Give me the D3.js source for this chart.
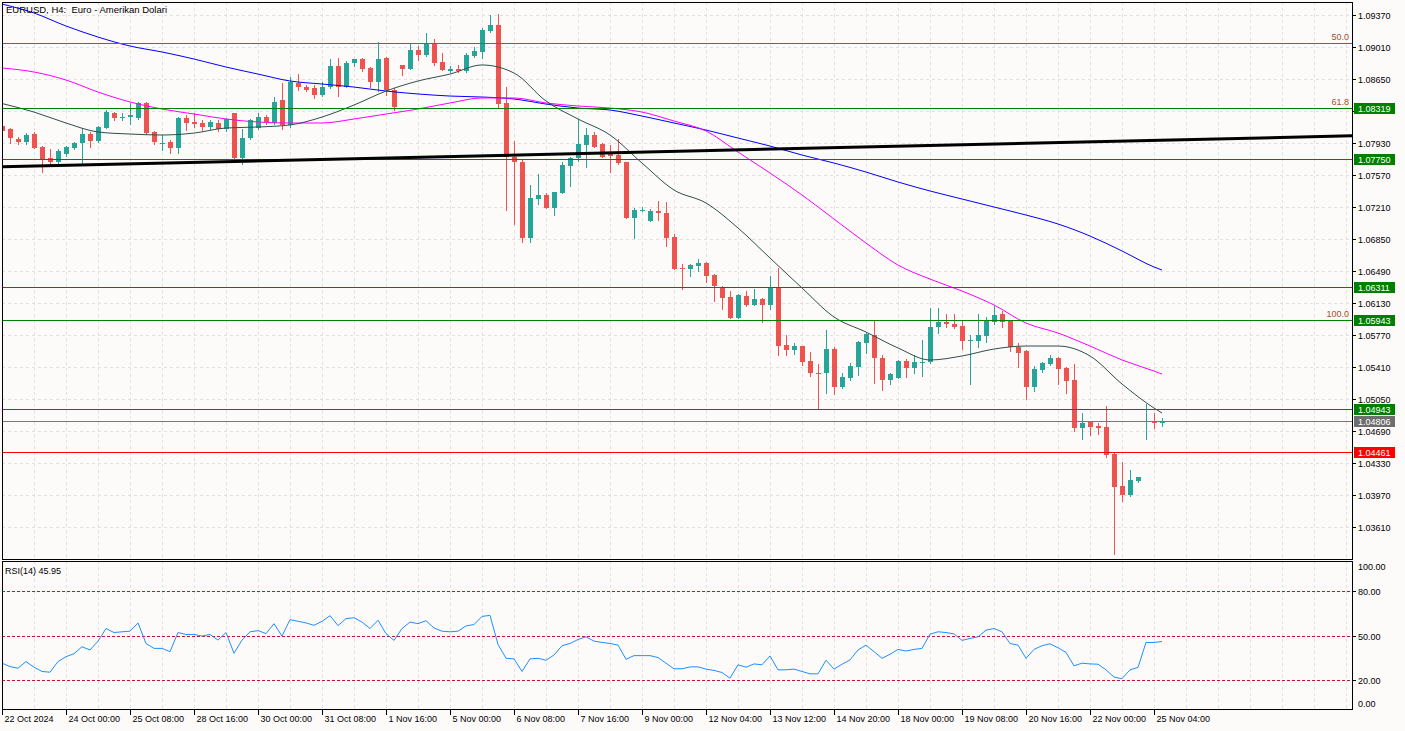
<!DOCTYPE html>
<html><head><meta charset="utf-8">
<script src="https://cdn.jsdelivr.net/npm/d3@7/dist/d3.min.js"></script>
<style>
html,body{margin:0;padding:0;background:#fdfafa;}
svg{display:block;}
text{font-family:"Liberation Sans",Arial,sans-serif;fill:#000;}
</style></head><body>
<svg id="c" width="1405" height="731"></svg>
<script>
// ---------- DATA ----------
const title = "EURUSD, H4:  Euro - Amerikan Dolari";
const xTickLabels = ["22 Oct 2024","24 Oct 00:00","25 Oct 08:00","28 Oct 16:00","30 Oct 00:00","31 Oct 08:00","1 Nov 16:00","5 Nov 00:00","6 Nov 08:00","7 Nov 16:00","9 Nov 00:00","12 Nov 04:00","13 Nov 12:00","14 Nov 20:00","18 Nov 00:00","19 Nov 08:00","20 Nov 16:00","22 Nov 00:00","25 Nov 04:00"];
const xTickBars = [0,8,16,24,32,40,48,56,64,72,80,88,96,104,112,120,128,136,144];
const priceTicks = [1.09370,1.09010,1.08650,1.08290,1.07930,1.07570,1.07210,1.06850,1.06490,1.06130,1.05770,1.05410,1.05050,1.04690,1.04330,1.03970,1.03610];
const rsiTicks = [100,80,50,20,0];
const rsiLevels = [80,50,20];

const opens = [1.08119,1.08086,1.07973,1.07939,1.08029,1.07883,1.07760,1.07715,1.07804,1.07872,
1.07928,1.08029,1.07951,1.08097,1.08265,1.08215,1.08220,1.08209,1.08378,1.08052,
1.07925,1.07939,1.07872,1.08209,1.08164,1.08153,1.08108,1.08153,1.08086,1.08265,
1.07760,1.07984,1.08097,1.08220,1.08153,1.08411,1.08131,1.08602,1.08557,1.08546,
1.08468,1.08557,1.08793,1.08557,1.08827,1.08872,1.08771,1.08614,1.08883,1.08524,
1.08805,1.08760,1.08973,1.08917,1.09052,1.08838,1.08737,1.08760,1.08737,1.08906,
1.08951,1.09187,1.09254,1.08378,1.07771,1.07715,1.06860,1.07299,1.07344,1.07198,
1.07366,1.07670,1.07760,1.07906,1.08018,1.07917,1.07816,1.07793,1.07715,1.07085,
1.07170,1.07051,1.07164,1.07141,1.06872,1.06524,1.06512,1.06546,1.06580,1.06445,
1.06310,1.06198,1.05962,1.06209,1.06108,1.06175,1.06108,1.06310,1.05658,1.05602,
1.05647,1.05478,1.05349,1.05344,1.05613,1.05186,1.05287,1.05411,1.05681,1.05771,
1.05512,1.05265,1.05287,1.05478,1.05400,1.05462,1.05467,1.05860,1.05917,1.05894,
1.05872,1.05709,1.05703,1.05759,1.05917,1.06007,1.05928,1.05636,1.05591,1.05186,
1.05377,1.05445,1.05512,1.05400,1.05265,1.04726,1.04793,1.04748,1.04737,1.04433,
1.04073,1.03973,1.04130,1.04799,1.04798,1.04782];
const highs = [1.08131,1.08097,1.07995,1.08040,1.08052,1.07894,1.07861,1.07861,1.07894,1.07939,
1.08097,1.08052,1.08119,1.08299,1.08276,1.08265,1.08378,1.08389,1.08389,1.08063,
1.08018,1.07962,1.08220,1.08243,1.08265,1.08187,1.08187,1.08187,1.08209,1.08265,
1.08086,1.08198,1.08265,1.08243,1.08445,1.08602,1.08670,1.08703,1.08580,1.08580,
1.08614,1.08872,1.08883,1.08850,1.08872,1.08883,1.08782,1.09063,1.08895,1.08546,
1.08805,1.09052,1.09018,1.09164,1.09097,1.08939,1.08793,1.08805,1.08939,1.09007,
1.09220,1.09366,1.09378,1.08557,1.07951,1.07737,1.07456,1.07580,1.07366,1.07377,
1.07715,1.07771,1.08198,1.08097,1.08052,1.07928,1.07906,1.07973,1.07715,1.07198,
1.07209,1.07186,1.07276,1.07265,1.06905,1.06569,1.06569,1.06625,1.06592,1.06457,
1.06321,1.06265,1.06231,1.06265,1.06288,1.06186,1.06434,1.06524,1.05771,1.05681,
1.05647,1.05580,1.05445,1.05827,1.05636,1.05344,1.05456,1.05703,1.05793,1.05928,
1.05546,1.05344,1.05490,1.05501,1.05546,1.05714,1.06074,1.06074,1.06007,1.06007,
1.05939,1.05771,1.06007,1.05973,1.06097,1.06040,1.05939,1.05681,1.05602,1.05422,
1.05467,1.05546,1.05523,1.05411,1.05445,1.04894,1.04804,1.04782,1.04973,1.04445,
1.04343,1.04253,1.04175,1.04995,1.04894,1.04838];
const lows = [1.08052,1.07928,1.07917,1.07917,1.07872,1.07602,1.07681,1.07670,1.07782,1.07861,
1.07703,1.07883,1.07939,1.08097,1.08187,1.08187,1.08142,1.08198,1.08029,1.07917,
1.07849,1.07816,1.07816,1.08074,1.08108,1.08074,1.08086,1.08063,1.08063,1.07726,
1.07692,1.07973,1.08086,1.08142,1.08142,1.08086,1.08108,1.08524,1.08512,1.08434,
1.08456,1.08546,1.08456,1.08557,1.08793,1.08737,1.08557,1.08512,1.08468,1.08299,
1.08692,1.08760,1.08861,1.08906,1.08805,1.08748,1.08726,1.08726,1.08726,1.08895,
1.08883,1.09175,1.08333,1.07175,1.07018,1.06816,1.06816,1.07243,1.07198,1.07119,
1.07366,1.07445,1.07726,1.07659,1.07883,1.07771,1.07602,1.07692,1.07085,1.06860,
1.07164,1.07051,1.07063,1.06771,1.06512,1.06288,1.06434,1.06490,1.06366,1.06153,
1.06063,1.05962,1.05962,1.06097,1.06108,1.05917,1.06063,1.05546,1.05546,1.05557,
1.05433,1.05310,1.04950,1.05119,1.05108,1.05175,1.05265,1.05321,1.05568,1.05231,
1.05153,1.05220,1.05287,1.05299,1.05344,1.05310,1.05456,1.05793,1.05860,1.05849,
1.05613,1.05220,1.05636,1.05692,1.05894,1.05860,1.05591,1.05411,1.05051,1.05142,
1.05355,1.05433,1.05220,1.05119,1.04692,1.04602,1.04647,1.04658,1.04400,1.03310,
1.03905,1.03962,1.04119,1.04602,1.04726,1.04748];
const closes = [1.08063,1.07984,1.07939,1.08018,1.07872,1.07748,1.07715,1.07838,1.07883,1.07928,
1.08029,1.07951,1.08108,1.08276,1.08209,1.08220,1.08243,1.08378,1.08040,1.07939,
1.07930,1.07872,1.08209,1.08153,1.08142,1.08108,1.08164,1.08086,1.08198,1.07760,
1.07984,1.08187,1.08220,1.08164,1.08389,1.08131,1.08614,1.08557,1.08524,1.08468,
1.08557,1.08793,1.08557,1.08827,1.08872,1.08760,1.08614,1.08872,1.08524,1.08333,
1.08760,1.08973,1.08917,1.09052,1.08827,1.08748,1.08760,1.08737,1.08917,1.08962,
1.09198,1.09254,1.08366,1.07771,1.07715,1.06860,1.07310,1.07344,1.07198,1.07377,
1.07681,1.07760,1.07917,1.08018,1.07883,1.07771,1.07782,1.07703,1.07085,1.07175,
1.07175,1.07164,1.07141,1.06860,1.06512,1.06512,1.06557,1.06580,1.06434,1.06321,
1.06186,1.05962,1.06220,1.06108,1.06175,1.06108,1.06310,1.05647,1.05602,1.05647,
1.05467,1.05344,1.05344,1.05613,1.05186,1.05299,1.05422,1.05692,1.05782,1.05512,
1.05265,1.05332,1.05478,1.05400,1.05467,1.05467,1.05860,1.05917,1.05894,1.05860,
1.05703,1.05714,1.05771,1.05928,1.05995,1.05917,1.05636,1.05568,1.05186,1.05388,
1.05456,1.05512,1.05388,1.05254,1.04726,1.04782,1.04737,1.04726,1.04422,1.04062,
1.03973,1.04141,1.04175,1.04804,1.04793,1.04806];

// moving averages every 4 bars (+ last bar)
const maBars = [0,4,8,12,16,20,24,28,32,36,40,44,48,52,56,60,64,68,72,76,80,84,88,92,96,100,104,108,112,116,120,124,128,132,136,140,144,145];
const maFast = [1.08372,1.08276,1.08153,1.08052,1.08029,1.08018,1.08040,1.08097,1.08108,1.08131,1.08220,1.08355,1.08512,1.08625,1.08703,1.08805,1.08715,1.08400,1.08198,1.08018,1.07703,1.07400,1.07254,1.06973,1.06636,1.06299,1.05973,1.05804,1.05625,1.05490,1.05535,1.05613,1.05647,1.05647,1.05535,1.05220,1.04950,1.04894];
const maMid = [1.08771,1.08726,1.08636,1.08501,1.08389,1.08310,1.08254,1.08198,1.08164,1.08153,1.08153,1.08198,1.08254,1.08310,1.08378,1.08434,1.08434,1.08378,1.08344,1.08321,1.08276,1.08175,1.08063,1.07827,1.07591,1.07344,1.07074,1.06804,1.06557,1.06399,1.06265,1.06108,1.05905,1.05793,1.05647,1.05490,1.05366,1.05332];
const maSlow = [1.09490,1.09389,1.09243,1.09119,1.09018,1.08951,1.08872,1.08782,1.08703,1.08625,1.08591,1.08557,1.08512,1.08479,1.08456,1.08445,1.08423,1.08366,1.08321,1.08299,1.08231,1.08153,1.08074,1.07984,1.07894,1.07793,1.07703,1.07602,1.07490,1.07389,1.07299,1.07209,1.07119,1.07018,1.06883,1.06715,1.06535,1.06501];

const rsiValues = [31.3,29.0,27.9,32.4,28.6,25.7,25.2,32.4,35.7,37.7,
42.4,40.2,46.2,54.7,52.0,52.5,52.9,58.5,44.6,41.3,
41.3,39.1,52.0,50.7,50.7,49.6,50.7,46.9,52.0,38.0,
46.9,52.5,53.3,51.3,58.0,49.6,60.7,59.6,58.5,56.9,
59.6,63.4,56.7,61.4,62.0,59.1,54.7,60.3,51.3,46.7,
54.7,59.1,58.0,60.0,55.1,52.9,52.5,52.9,56.5,57.4,
62.9,63.6,44.0,34.6,34.2,25.7,34.2,34.6,33.3,36.8,
43.1,44.6,47.3,49.1,46.2,45.3,44.6,43.5,33.9,36.4,
36.4,36.4,35.1,31.3,27.5,27.5,28.8,28.8,27.3,26.4,
25.0,21.2,30.2,28.6,30.8,30.2,36.2,26.8,26.8,27.3,
25.7,24.1,24.1,33.3,27.3,30.6,33.5,40.2,43.5,39.1,
34.6,37.3,40.6,39.5,40.6,41.3,50.9,52.5,52.0,51.1,
46.7,48.0,49.1,53.6,54.7,52.5,44.6,43.5,34.6,40.6,
43.1,44.4,41.7,38.6,29.5,31.3,30.8,30.6,26.8,21.9,
20.8,26.8,28.4,45.3,45.3,45.95];
const rsiLabel = "RSI(14) 45.95";

const trendBars = [0, 168.75];
const trendPrices = [1.07661, 1.08009];

const fibLabels = ["50.0","61.8","100.0"];
const fibPrices = [1.09050, 1.08317, 1.05943];

const levelPrices = [1.08319, 1.07750, 1.06311, 1.05943, 1.04943, 1.04806, 1.04461];
const levelKinds  = ["green","green","green","green","green","current","red"];

// ---------- LAYOUT ----------
const plotL = 2, plotR = 1352, mainT = 2, mainB = 559, rsiT = 561, rsiB = 709;
const priceTop = 1.095127, priceBottom = 1.032537;
const C = {bg:"#fdfafa", grid:"#e6dfdf", up:"#26a69a", down:"#ef5350", fib:"#a0522d",
  green:"#008000", red:"#ff0000", current:"#787878", currentBadge:"#6e6e6e",
  fast:"#2f4f4f", mid:"#ff00ff", slow:"#0000ff", rsi:"#1e90ff", rsiLevel:"#c8102e"};

const svg = d3.select("#c");
svg.append("rect").attr("width",1405).attr("height",731).attr("fill",C.bg);

const x = d3.scaleLinear().domain([0,168.75]).range([plotL, plotR]);
const y = d3.scaleLinear().domain([priceBottom, priceTop]).range([mainB, mainT]);
const ry = d3.scaleLinear().domain([0,100]).range([709.5, 561.5]);

const defs = svg.append("defs");
defs.append("clipPath").attr("id","cm").append("rect").attr("x",plotL).attr("y",mainT).attr("width",plotR-plotL).attr("height",mainB-mainT);
defs.append("clipPath").attr("id","cr").append("rect").attr("x",plotL).attr("y",rsiT).attr("width",plotR-plotL).attr("height",rsiB-rsiT);

const gMain = svg.append("g").attr("clip-path","url(#cm)");
const gRsi = svg.append("g").attr("clip-path","url(#cr)");

// grid
const gridBars = d3.range(0, 169, 4);
[ [gMain, mainT, mainB], [gRsi, rsiT, rsiB] ].forEach(([g,t,b])=>{
  g.selectAll(null).data(gridBars).enter().append("line")
    .attr("x1",d=>Math.round(x(d))+0.5).attr("x2",d=>Math.round(x(d))+0.5)
    .attr("y1",t).attr("y2",b).attr("stroke",C.grid).attr("stroke-dasharray","3,3")
    .attr("shape-rendering","crispEdges");
});
gMain.selectAll(null).data(priceTicks).enter().append("line")
  .attr("x1",plotL).attr("x2",plotR)
  .attr("y1",d=>Math.round(y(d))+0.5).attr("y2",d=>Math.round(y(d))+0.5)
  .attr("stroke",C.grid).attr("stroke-dasharray","3,3").attr("shape-rendering","crispEdges");

// candles
const idx = d3.range(opens.length);
const cg = gMain.append("g").attr("shape-rendering","crispEdges");
idx.forEach(i=>{
  const o=opens[i], h=highs[i], l=lows[i], c=closes[i];
  const col = c>=o ? C.up : C.down;
  const cx = Math.round(x(i));
  cg.append("line").attr("x1",cx+0.5).attr("x2",cx+0.5)
    .attr("y1",Math.round(y(h))).attr("y2",Math.round(y(l))+1).attr("stroke",col);
  const top = Math.round(y(Math.max(o,c))), bot = Math.round(y(Math.min(o,c)));
  cg.append("rect").attr("x",cx-2).attr("y",top).attr("width",5).attr("height",Math.max(1,bot-top)).attr("fill",col);
});

// moving averages
const maLine = d3.line().x((d,k)=>x(maBars[k])).y(d=>y(d)).curve(d3.curveMonotoneX);
[[maSlow,C.slow],[maMid,C.mid],[maFast,C.fast]].forEach(([arr,col])=>{
  gMain.append("path").attr("d",maLine(arr)).attr("fill","none").attr("stroke",col).attr("stroke-width",1);
});

// fib lines
fibPrices.forEach((p,k)=>{
  const yy = Math.round(y(p))+0.5;
  gMain.append("line").attr("x1",plotL).attr("x2",plotR).attr("y1",yy).attr("y2",yy)
    .attr("stroke",C.fib).attr("stroke-width",1).attr("shape-rendering","crispEdges");
  svg.append("text").attr("x",1349).attr("y",yy-4).attr("text-anchor","end")
    .attr("font-size","9px").style("fill",C.fib).text(fibLabels[k]);
});

// horizontal levels
const levelColor = k => k==="green"?C.green:(k==="red"?C.red:C.current);
levelPrices.forEach((p,k)=>{
  const yy = Math.round(y(p))+0.5;
  gMain.append("line").attr("x1",plotL).attr("x2",plotR).attr("y1",yy).attr("y2",yy)
    .attr("stroke",levelColor(levelKinds[k])).attr("stroke-width",1).attr("shape-rendering","crispEdges");
});

// trend line
gMain.append("line").attr("x1",x(trendBars[0])).attr("x2",x(trendBars[1]))
  .attr("y1",y(trendPrices[0])).attr("y2",y(trendPrices[1]))
  .attr("stroke","#000").attr("stroke-width",3);

// RSI
gRsi.selectAll(null).data(rsiLevels).enter().append("line")
  .attr("x1",plotL).attr("x2",plotR)
  .attr("y1",d=>Math.round(ry(d))+0.5).attr("y2",d=>Math.round(ry(d))+0.5)
  .attr("stroke",C.rsiLevel).attr("stroke-dasharray","3,2").attr("shape-rendering","crispEdges");
gRsi.append("path").attr("d", d3.line().x((d,i)=>x(i)).y(d=>ry(d))(rsiValues))
  .attr("fill","none").attr("stroke",C.rsi).attr("stroke-width",1);

// pane borders
svg.append("rect").attr("x",plotL+0.5).attr("y",mainT+0.5).attr("width",plotR-plotL).attr("height",mainB-mainT)
  .attr("fill","none").attr("stroke","#000").attr("shape-rendering","crispEdges");
svg.append("rect").attr("x",plotL+0.5).attr("y",rsiT+0.5).attr("width",plotR-plotL).attr("height",rsiB-rsiT)
  .attr("fill","none").attr("stroke","#000").attr("shape-rendering","crispEdges");

// right price axis (labels hidden behind a badge are not drawn, as in the reference)
const badgeYs = levelPrices.map(p=>Math.round(y(p))+0.5);
const ax = svg.append("g").attr("shape-rendering","crispEdges");
priceTicks.forEach(p=>{
  const yy = Math.round(y(p))+0.5;
  ax.append("line").attr("x1",plotR).attr("x2",plotR+4).attr("y1",yy).attr("y2",yy).attr("stroke","#000");
  const hidden = badgeYs.some(b=>Math.abs(b-yy)<7);
  if (!hidden) svg.append("text").attr("x",plotR+6).attr("y",yy).attr("dy","0.35em").attr("font-size","9px").text(p.toFixed(5));
});
// badges
levelPrices.forEach((p,k)=>{
  const yy = badgeYs[k];
  const kind = levelKinds[k];
  const fill = kind==="green"?C.green:(kind==="red"?C.red:C.currentBadge);
  svg.append("rect").attr("x",plotR+2).attr("y",yy-5.5).attr("width",41).attr("height",11).attr("fill",fill);
  svg.append("text").attr("x",plotR+6).attr("y",yy).attr("dy","0.35em").attr("font-size","9px").style("fill","#fff").text(p.toFixed(5));
});

// RSI axis
rsiTicks.forEach(v=>{
  let yy = Math.round(ry(v))+0.5;
  if (v!==100 && v!==0) ax.append("line").attr("x1",plotR).attr("x2",plotR+4).attr("y1",yy).attr("y2",yy).attr("stroke","#000");
  if (v===100) yy = 567; if (v===0) yy = 704;
  svg.append("text").attr("x",plotR+6).attr("y",yy).attr("dy","0.35em").attr("font-size","9px").text(v.toFixed(2));
});

// bottom time axis
xTickBars.forEach((b,k)=>{
  const xx = Math.round(x(b))+0.5;
  ax.append("line").attr("x1",xx).attr("x2",xx).attr("y1",rsiB).attr("y2",rsiB+6).attr("stroke","#000");
  svg.append("text").attr("x",xx+2).attr("y",722).attr("font-size","9px").text(xTickLabels[k]);
});

// titles
svg.append("text").attr("x",6).attr("y",13).attr("font-size","9.5px").style("white-space","pre").text(title);
svg.append("text").attr("x",5).attr("y",574).attr("font-size","9px").text(rsiLabel);
</script>
</body></html>
